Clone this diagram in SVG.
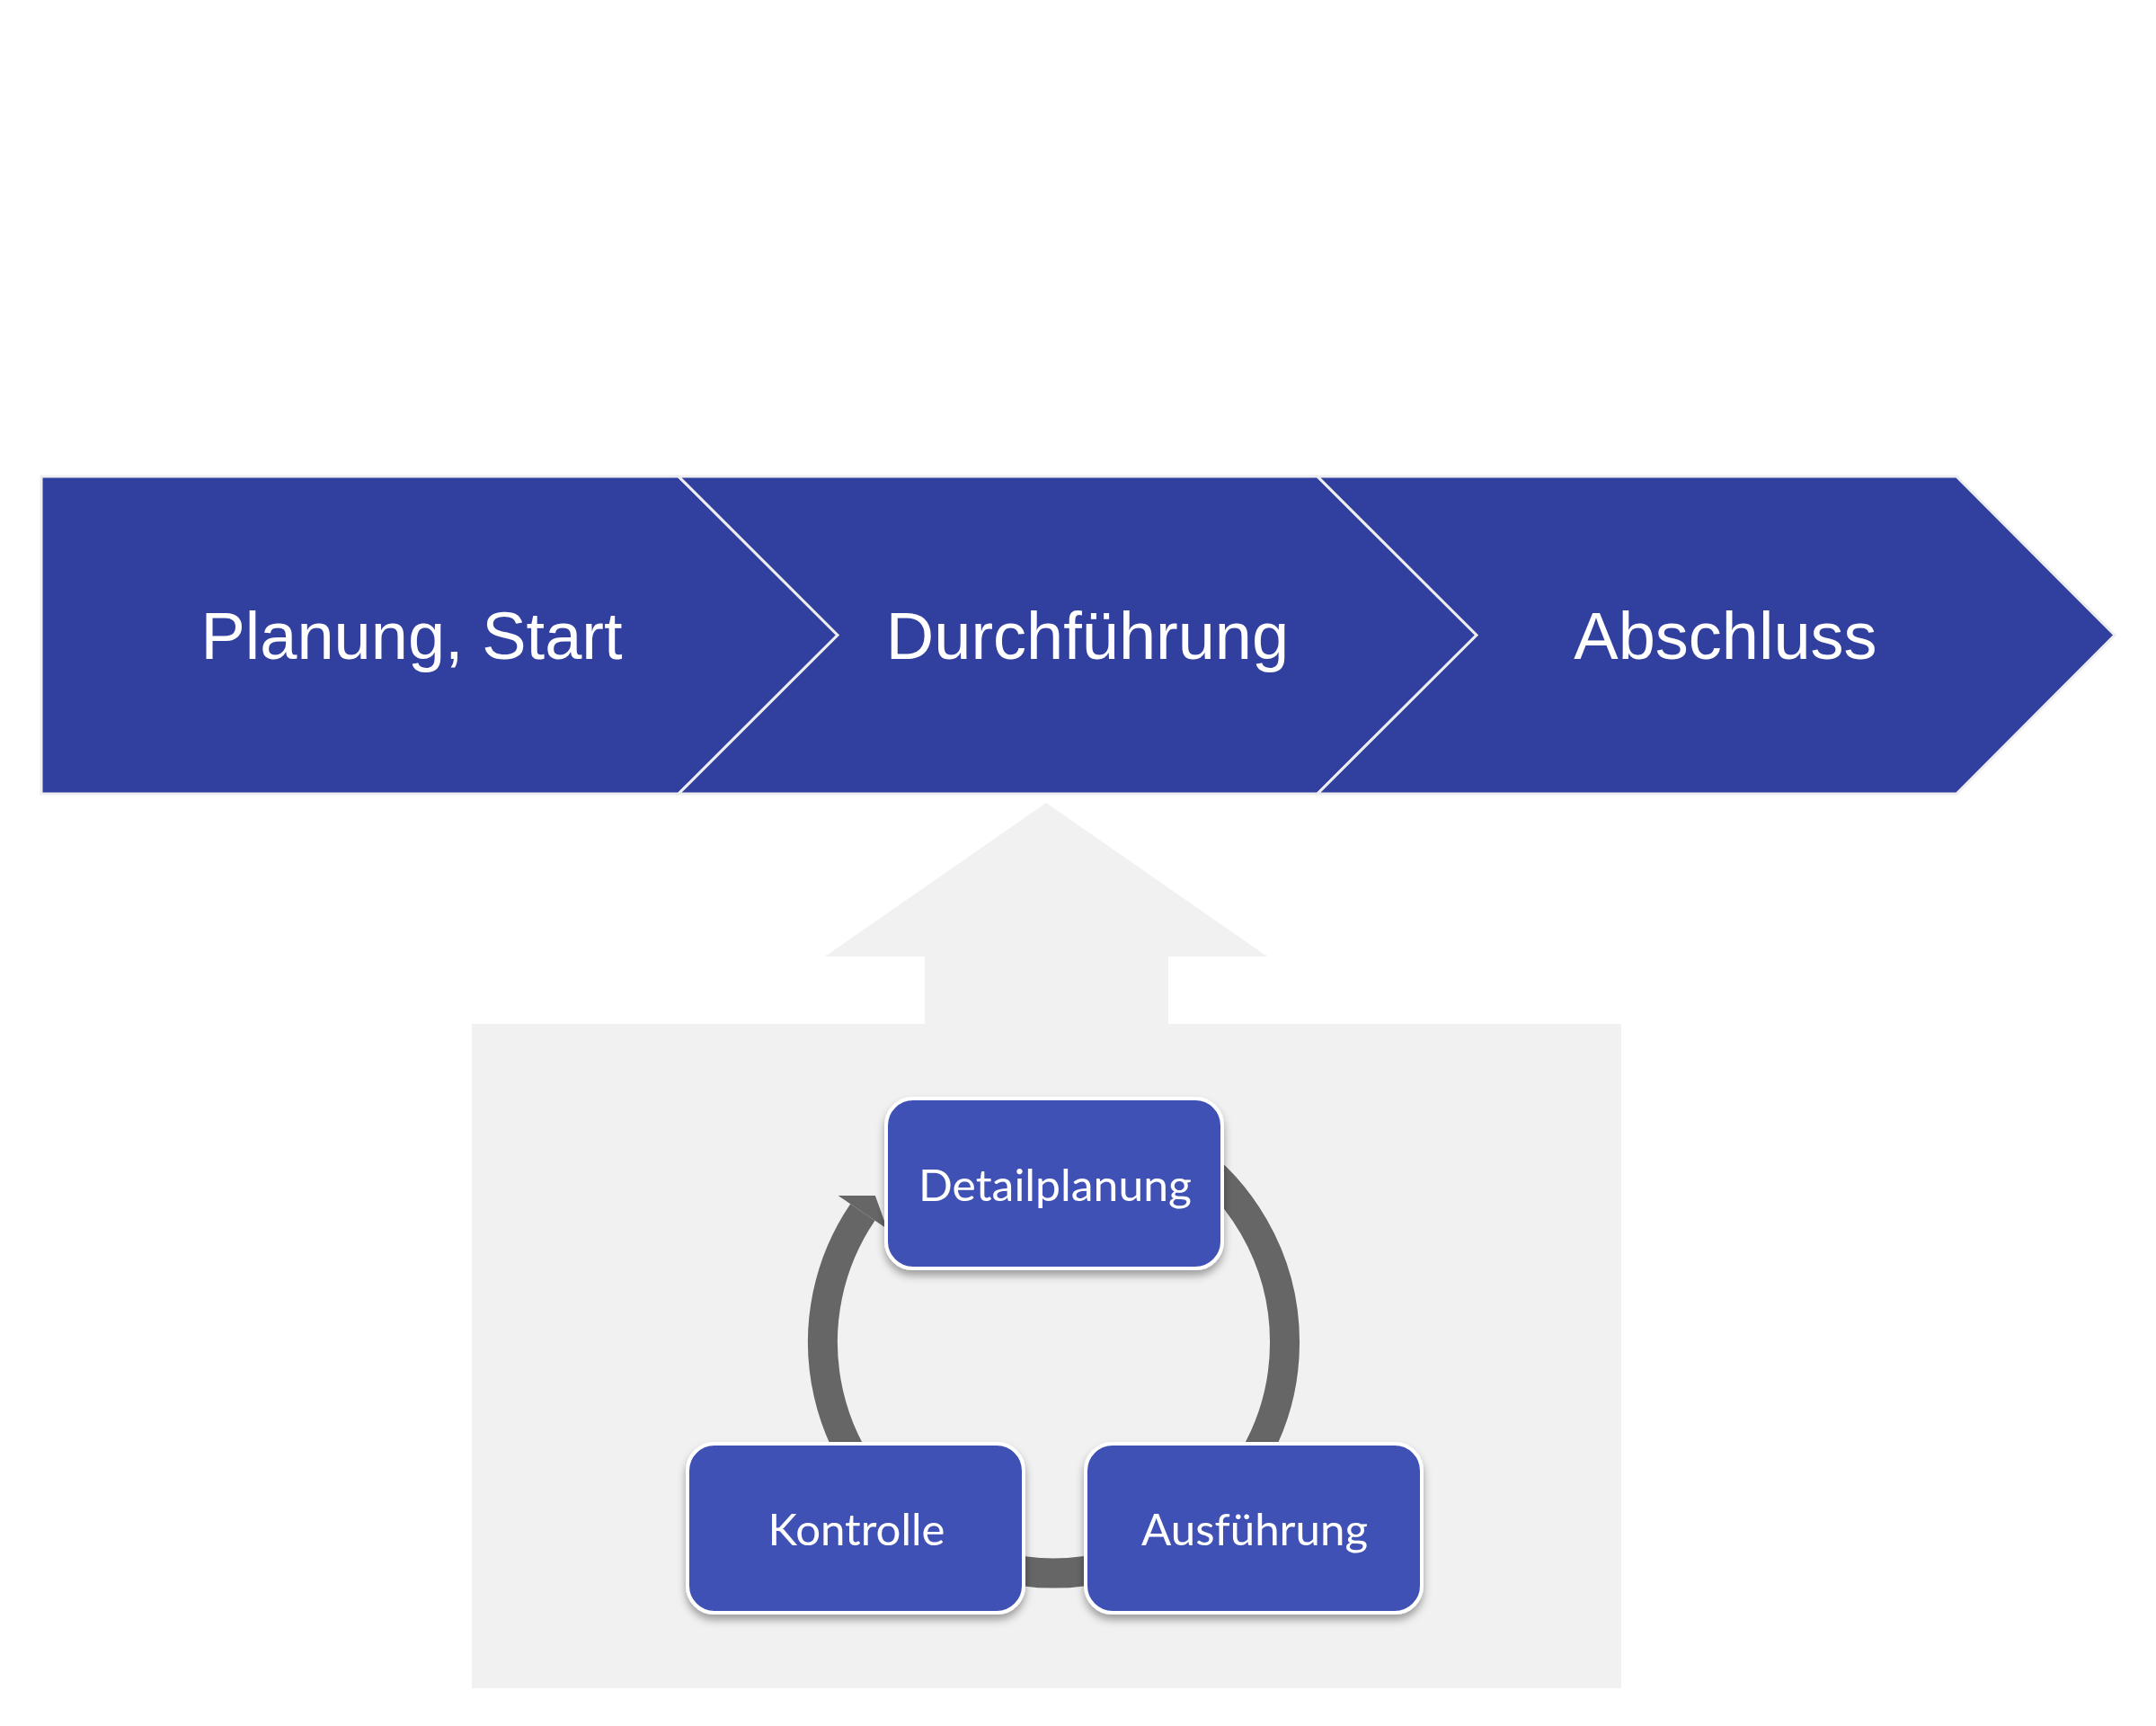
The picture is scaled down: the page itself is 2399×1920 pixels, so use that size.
<svg xmlns="http://www.w3.org/2000/svg" width="2399" height="1920" viewBox="0 0 2399 1920">
  <defs>
    <filter id="shadow" x="-10%" y="-10%" width="120%" height="130%">
      <feDropShadow dx="0" dy="6" stdDeviation="5" flood-color="#000000" flood-opacity="0.35"/>
    </filter>
  </defs>
  <style>
    .phase { fill: #31409E; stroke: #EEEEF0; stroke-width: 3; stroke-linejoin: miter; }
    .phase-label { font-family: "Liberation Sans", Arial, sans-serif; font-size: 74px; fill: #FFFFFF; text-anchor: middle; }
    .backdrop { fill: #F1F1F1; }
    .node { fill: #3F51B5; stroke: #FFFFFF; stroke-width: 4; filter: url(#shadow); }
    .node-label { font-family: Lato, "Open Sans", sans-serif; font-size: 48px; fill: #FFFFFF; text-anchor: middle; }
    .cycle { fill: none; stroke: #666666; stroke-width: 33; stroke-linecap: butt; }
    .cycle-head { fill: #666666; }
  </style>

  <rect width="2399" height="1920" fill="#FFFFFF"/>

  <!-- Phase chevrons -->
  <g id="phase-planung">
    <polygon class="phase" points="46,530 755,530 932,706.5 755,883 46,883"/>
    <text class="phase-label" x="458" y="733">Planung, Start</text>
  </g>
  <g id="phase-durchfuehrung">
    <polygon class="phase" points="755,530 1466,530 1643,706.5 1466,883 755,883 932,706.5"/>
    <text class="phase-label" x="1210" y="733">Durchführung</text>
  </g>
  <g id="phase-abschluss">
    <polygon class="phase" points="1466,530 2177,530 2353,706.5 2177,883 1466,883 1643,706.5"/>
    <text class="phase-label" x="1920" y="733">Abschluss</text>
  </g>

  <!-- Backdrop panel with upward arrow -->
  <g id="backdrop">
    <rect class="backdrop" x="525" y="1139" width="1279" height="739"/>
    <polygon class="backdrop" points="1029,1140 1029,1064 918,1064 1164,893 1410,1064 1300,1064 1300,1140"/>
  </g>

  <!-- Cycle connectors -->
  <g id="connectors">
    <path id="conn-detail-ausf" class="cycle" d="M 1301,1270.4 A 257 257 0 0 1 1301,1715.6"/>
    <path id="conn-ausf-kontrolle" class="cycle" d="M 1239,1741.2 A 257 257 0 0 1 1106,1741.2"/>
    <g id="conn-kontrolle-detail">
      <path class="cycle" d="M 1044,1715.6 A 257 257 0 0 1 959.9,1348.5"/>
      <polygon class="cycle-head" points="932.6,1330 973.9,1329.9 987.2,1367.1"/>
    </g>
  </g>

  <!-- Cycle nodes -->
  <g id="node-detailplanung">
    <rect class="node" x="986" y="1222" width="374" height="189" rx="30" ry="30"/>
    <text class="node-label" x="1174" y="1336" textLength="304" lengthAdjust="spacingAndGlyphs">Detailplanung</text>
  </g>
  <g id="node-kontrolle">
    <rect class="node" x="765" y="1606" width="374" height="188" rx="30" ry="30"/>
    <text class="node-label" x="953" y="1719" textLength="197" lengthAdjust="spacingAndGlyphs">Kontrolle</text>
  </g>
  <g id="node-ausfuehrung">
    <rect class="node" x="1208" y="1606" width="374" height="188" rx="30" ry="30"/>
    <text class="node-label" x="1396" y="1719" textLength="252" lengthAdjust="spacingAndGlyphs">Ausführung</text>
  </g>
</svg>
